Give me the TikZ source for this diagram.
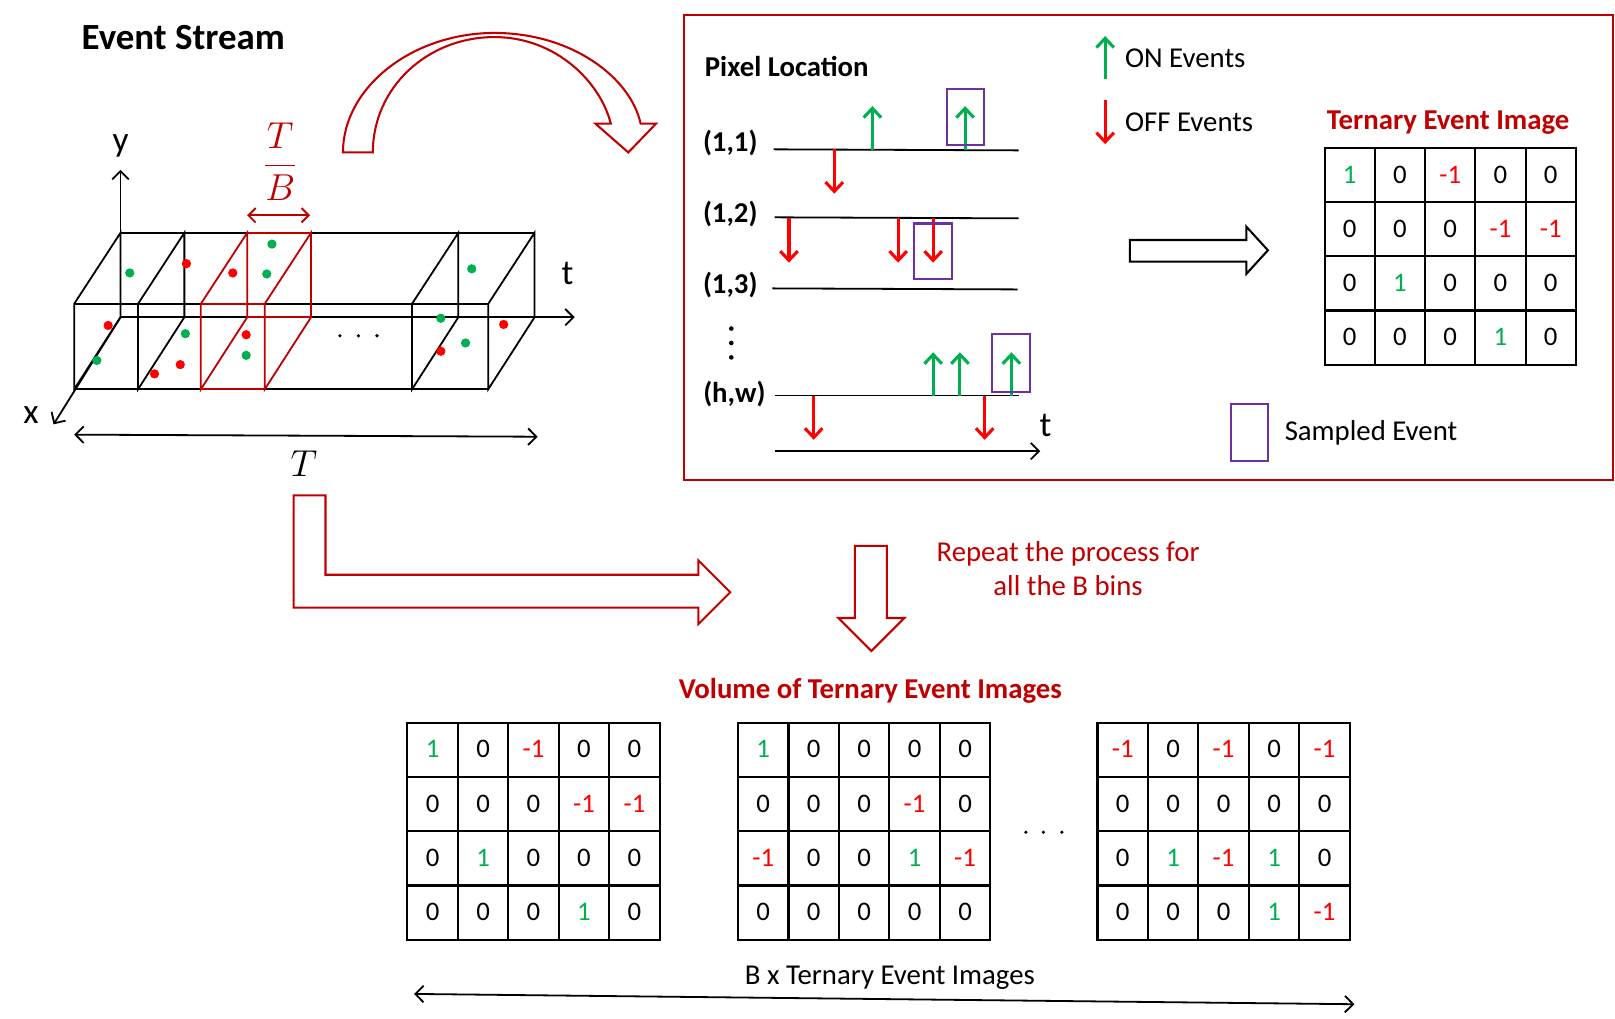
\documentclass[tikz,border=0pt]{standalone}
\usepackage{fontspec}
\setmainfont{Carlito}
\usetikzlibrary{arrows.meta,positioning,matrix}

\definecolor{evred}{HTML}{FF0000}
\definecolor{evgreen}{HTML}{00B050}
\definecolor{evdark}{HTML}{C00000}
\definecolor{evpurple}{HTML}{7030A0}

\newcommand{\pone}{\textcolor{evgreen}{1}}
\newcommand{\mone}{\textcolor{evred}{-1}}

\begin{document}
\begin{tikzpicture}[
    x=0.02cm, y=-0.02cm,
    txt/.style={inner sep=0pt, font=\fontsize{15.9}{19}\selectfont},
    hd/.style={inner sep=0pt, font=\fontsize{15.9}{19}\selectfont\bfseries},
    axlbl/.style={inner sep=0pt, font=\fontsize{19.5}{23}\selectfont},
    tcell/.style={minimum width=0.98cm, minimum height=1.055cm, inner sep=0pt, outer sep=0pt,
      anchor=center, text height=1.9ex, text depth=0pt, font=\fontsize{14.8}{17}\selectfont},
    ternary/.style={matrix of nodes, nodes={tcell}, column sep=0pt, row sep=0pt, inner sep=0pt},
    grid/.style={line width=0.04cm, line cap=rect},
    barb/.style={-{Straight Barb[length=0.18cm,width=0.34cm]}},
    onev/.style={barb, evgreen, line width=0.06cm},
    offv/.style={barb, evred, line width=0.06cm},
    sampled/.style={draw=evpurple, line width=0.04cm},
    hollow/.style={draw=evdark, line width=0.04cm, line join=miter},
    thin/.style={line width=0.035cm},
    thinarrow/.style={thin, -{Straight Barb[length=0.16cm,width=0.32cm]}}
]
\useasboundingbox (0,0) rectangle (1568,989);

% Event stream volume
\node[hd, anchor=west, font=\fontsize{20.4}{24}\selectfont\bfseries] (stream) at (79,36) {Event Stream};

\draw[thinarrow] (117,308) -- (117,165);
\draw[thinarrow] (117,308) -- (558,308);
\draw[thinarrow] (117,308) -- (52,412);
\node[axlbl] (ylbl) at (117,142) {y};
\node[axlbl] (tlbl) at (551,266) {t};
\node[axlbl] (xlbl) at (30,403) {x};

\draw[thin] (72,295) -- (474,295) (72,378) -- (474,378) (117,226) -- (518,226);
\foreach \x in {72,134,400,474}
  \draw[thin] (\x,295) -- (\x+45,226) -- (\x+45,308) -- (\x,378) -- cycle;

% one bin of width T/B
\draw[thin, evdark] (195,295) -- (257,295) (195,378) -- (257,378) (240,226) -- (301,226) (240,308) -- (301,308);
\foreach \x in {195,257}
  \draw[thin, evdark] (\x,295) -- (\x+45,226) -- (\x+45,308) -- (\x,378) -- cycle;

\foreach \p in {(126,265),(94,350),(180,324),(264,237),(259,266),(239,345),(458,261),(428,309),(452,333)}
  \fill[evgreen] \p circle (0.09cm);
\foreach \p in {(105,316),(181,256),(150,363),(175,354),(226,265),(239,325),(428,341),(489,315)}
  \fill[evred] \p circle (0.09cm);
\foreach \x in {330,348,366}
  \fill (\x,326) circle (0.035cm);

\node[text=evdark, font=\fontsize{20}{24}\selectfont] (frac) at (272,157) {$\displaystyle\frac{T}{B}$};
\coordinate (binl) at (240,209);
\coordinate (binr) at (301,209);
\draw[thin, evdark, {Straight Barb[length=0.14cm,width=0.28cm]}-{Straight Barb[length=0.14cm,width=0.28cm]}] (binl) -- (binr);

\coordinate (tl) at (72,422);
\coordinate (tr) at (522,424);
\draw[thin, {Straight Barb[length=0.16cm,width=0.32cm]}-{Straight Barb[length=0.16cm,width=0.32cm]}] (tl) -- (tr);
\node[font=\fontsize{20}{24}\selectfont] (tT) at (295,450) {$T$};

% Curved block arrow
\draw[hollow] (333,148) .. controls (333,85) and (400,32) .. (480,32)
  .. controls (555,32) and (612,75) .. (622,120) -- (637,120) -- (610,148) -- (578,120) -- (593,120)
  .. controls (583,80) and (540,36) .. (480,36) .. controls (415,36) and (362,85) .. (362,148) -- cycle;

% Pixel timelines
\draw[evdark, line width=0.04cm] (664,15) rectangle (1566,466);
\node[hd, anchor=west] (pix) at (684,65) {Pixel Location};

\node[hd] (p11) at (709,139) {(1,1)};
\node[hd] (p12) at (709,208) {(1,2)};
\node[hd] (p13) at (709,277) {(1,3)};
\node[hd] (phw) at (713,383) {(h,w)};
\foreach \y in {319,333,347}
  \fill (710,\y) circle (0.045cm);

\draw[thin] (751,145) -- (989,146);
\draw[thin] (752,211) -- (989,212);
\draw[thin] (750,280) -- (988,281);
\draw[thin] (752,384) -- (989,384);
\draw[thinarrow] (752,438) -- (1010,438);
\node[axlbl] (taxis) at (1015,413) {t};

\foreach \x in {847,937} \draw[onev] (\x,146) -- ++(0,-43);
\foreach \x in {810} \draw[offv] (\x,145) -- ++(0,43);
\foreach \x in {766,872,906} \draw[offv] (\x,212) -- ++(0,43);
\foreach \x in {906,932,982} \draw[onev] (\x,384) -- ++(0,-42);
\foreach \x in {790,956} \draw[offv] (\x,384) -- ++(0,43);

\draw[sampled] (919,86) rectangle (955,141);
\draw[sampled] (887,217) rectangle (924,271);
\draw[sampled] (963,324) rectangle (1000,381);

% Legend
\draw[onev] (1073,77) -- (1073,35);
\draw[offv] (1073,97) -- (1073,140);
\node[txt, anchor=west] (onlbl) at (1092,57) {ON Events};
\node[txt, anchor=west] (offlbl) at (1092,119) {OFF Events};
\node[sampled, minimum width=0.72cm, minimum height=1.1cm, inner sep=0pt] (legbox) at (1213,420) {};
\node[txt, right=0.3cm of legbox] (legtxt) {Sampled Event};

\draw[line width=0.04cm, line join=miter] (1097,233) -- (1210,233) -- (1210,220) -- (1231,243) -- (1210,266) -- (1210,254) -- (1097,254) -- cycle;

% Ternary event image
\node[hd, text=evdark] (tei) at (1406,119) {Ternary Event Image};
\matrix (img) [ternary, nodes={minimum width=0.976cm, minimum height=1.05cm}] at (1408,249) {
  \pone & 0 & \mone & 0 & 0 \\
  0 & 0 & 0 & \mone & \mone \\
  0 & \pone & 0 & 0 & 0 \\
  0 & 0 & 0 & \pone & 0 \\
};

% Repeat for all bins
\draw[hollow] (285,481) -- (316,481) -- (316,558) -- (678,558) -- (678,544) -- (709,575) -- (678,606) -- (678,590) -- (285,590) -- cycle;
\draw[hollow] (830,530) -- (861,530) -- (861,600) -- (878,600) -- (846,632) -- (814,600) -- (830,600) -- cycle;
\node[txt, text=evdark, align=center] (repeat) at (1037,552) {Repeat the process for\\all the B bins};

\node[hd, text=evdark] (vol) at (845,671) {Volume of Ternary Event Images};

\matrix (img1) [ternary] at (518,807) {
  \pone & 0 & \mone & 0 & 0 \\
  0 & 0 & 0 & \mone & \mone \\
  0 & \pone & 0 & 0 & 0 \\
  0 & 0 & 0 & \pone & 0 \\
};
\matrix (img2) [ternary] at (839,807) {
  \pone & 0 & 0 & 0 & 0 \\
  0 & 0 & 0 & \mone & 0 \\
  \mone & 0 & 0 & \pone & \mone \\
  0 & 0 & 0 & 0 & 0 \\
};
\matrix (imgB) [ternary] at (1188,807) {
  \mone & 0 & \mone & 0 & \mone \\
  0 & 0 & 0 & 0 & 0 \\
  0 & \pone & \mone & \pone & 0 \\
  0 & 0 & 0 & \pone & \mone \\
};

% cell borders
\foreach \m in {img,img1,img2,imgB} {
  \draw[grid] (\m-1-1.north west) rectangle (\m-4-5.south east);
  \foreach \c in {1,...,4}
    \draw[grid] (\m-1-\c.north east) -- (\m-4-\c.south east);
  \foreach \r in {1,2,3}
    \draw[grid] (\m-\r-1.south west) -- (\m-\r-5.south east);
}

\foreach \x in {996,1013,1031}
  \fill (\x,808) circle (0.035cm);

\coordinate (bl) at (402,965);
\coordinate (br) at (1315,975);
\draw[thin, {Straight Barb[length=0.16cm,width=0.32cm]}-{Straight Barb[length=0.16cm,width=0.32cm]}] (bl) -- (br);
\node[txt] (bcount) at (864,949) {B x Ternary Event Images};

\end{tikzpicture}
\end{document}
